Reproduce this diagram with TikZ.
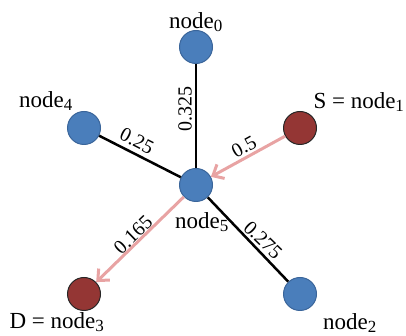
\documentclass[tikz,border=0pt]{standalone}
\usepackage{fontspec}
\setmainfont{Liberation Serif}
\usetikzlibrary{arrows.meta}
\definecolor{nblue}{HTML}{4A7EBB}
\definecolor{nblueline}{HTML}{3A659A}
\definecolor{nred}{HTML}{943634}
\definecolor{apink}{HTML}{E8A3A3}
\newcommand{\sbs}[1]{\textsubscript{\fontsize{17}{17}\selectfont #1}}
\begin{document}
\begin{tikzpicture}[x=1pt,y=1pt,
  bnode/.style={circle,minimum size=33pt,inner sep=0pt,fill=nblue,draw=nblueline,line width=1pt},
  rnode/.style={circle,minimum size=33pt,inner sep=0pt,fill=nred,draw=black!85,line width=1pt},
  nlabel/.style={font=\fontsize{23}{26}\selectfont,inner sep=0pt},
  elabel/.style={font=\fontsize{20}{22}\selectfont,inner sep=0pt},
  edge/.style={line width=2.5pt,black},
  path/.style={line width=3pt,apink,-{Straight Barb[length=9pt,width=16pt,line width=3pt]}}]
\useasboundingbox (0,0) rectangle (406,336);
\node[bnode] (n0) at (196,289) {};
\node[rnode] (n1) at (300,208) {};
\node[bnode] (n2) at (300,42) {};
\node[rnode] (n3) at (84,42) {};
\node[bnode] (n4) at (84,208) {};
\node[bnode] (n5) at (196,151) {};
\draw[edge] (n0) -- (n5);
\draw[edge] (n4) -- (n5);
\draw[edge] (n5) -- (n2);
\draw[path] (n1) -- (n5);
\draw[path] (n5) -- (n3);
\node[nlabel] (l0) at (196,314) {node\sbs{0}};
\node[nlabel] (l4) at (46,235) {node\sbs{4}};
\node[nlabel] (l1) at (359,234) {S = node\sbs{1}};
\node[nlabel] (l5) at (202,114) {node\sbs{5}};
\node[nlabel] (l3) at (57,14) {D = node\sbs{3}};
\node[nlabel] (l2) at (350,13) {node\sbs{2}};
\node[elabel,rotate=90] (e0) at (185,227) {0.325};
\node[elabel,rotate=-27] (e4) at (137,195) {0.25};
\node[elabel,rotate=29] (e1) at (244,189) {0.5};
\node[elabel,rotate=44] (e3) at (133,101) {0.165};
\node[elabel,rotate=-44] (e2) at (263,96) {0.275};
\end{tikzpicture}
\end{document}
